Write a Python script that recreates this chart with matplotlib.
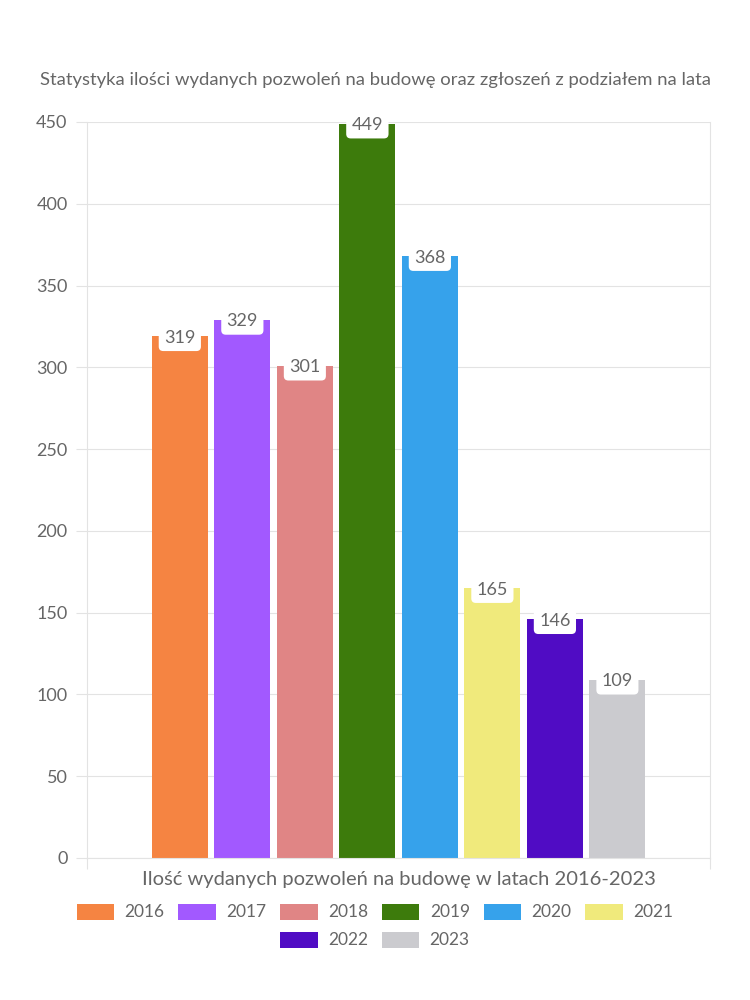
import matplotlib.pyplot as plt
from matplotlib.patches import Patch

title = "Statystyka ilości wydanych pozwoleń na budowę oraz zgłoszeń z podziałem na lata"
xlabel = "Ilość wydanych pozwoleń na budowę w latach 2016-2023"
years = ["2016", "2017", "2018", "2019", "2020", "2021", "2022", "2023"]
values = [319, 329, 301, 449, 368, 165, 146, 109]
colors = ["#F58442", "#A259FF", "#E08585", "#3D7B0C", "#36A2EB", "#F0EA7C", "#500CC4", "#CBCBCF"]
yticks = [0, 50, 100, 150, 200, 250, 300, 350, 400, 450]

plt.rcParams['font.family'] = ['Lato', 'DejaVu Sans']
text_color = "#666666"
grid_color = "#e3e3e3"

fig = plt.figure(figsize=(7.5, 10), dpi=100)
ax = fig.add_axes([0.116, 0.142, 0.831, 0.736])

step = 0.1003
width = 0.0899
n = len(years)
for i, (year, v, c) in enumerate(zip(years, values, colors)):
    x = (i - (n - 1) / 2) * step
    ax.bar(x, v, width=width, color=c, zorder=2)
    ax.annotate(str(v), xy=(x, v), xytext=(0, -1), textcoords="offset points",
                ha="center", va="center", fontsize=13, color=text_color, zorder=4,
                bbox=dict(boxstyle="round,pad=0.3,rounding_size=0.25", fc="white", ec="none"))

ax.set_xlim(-0.5, 0.5)
ax.set_ylim(0, 450)
ax.set_yticks(yticks)
ax.set_xticks([-0.5, 0.5])
ax.set_xticklabels(["", ""])
ax.tick_params(axis="y", length=8, color=grid_color, labelcolor=text_color, labelsize=13, pad=6)
ax.tick_params(axis="x", length=8, color=grid_color)
ax.grid(axis="y", color=grid_color, linewidth=0.8, zorder=0)
for side in ["left", "right", "bottom", "top"]:
    ax.spines[side].set_color(grid_color)
ax.spines["top"].set_visible(False)
ax.set_axisbelow(True)

fig.text(0.5, 0.92, title, ha="center", va="center", fontsize=13.3, color=text_color)
fig.text(0.532, 0.12, xlabel, ha="center", va="center", fontsize=14.5, color=text_color)

handles = [Patch(facecolor=c, label=y) for y, c in zip(years, colors)]
legend_opts = dict(loc="center", frameon=False, fontsize=12.5, handlelength=2.15,
                   handleheight=1.05, columnspacing=0.8, handletextpad=0.6,
                   labelcolor=text_color)
fig.legend(handles=handles[:6], bbox_to_anchor=(0.5, 0.088), ncol=6, **legend_opts)
fig.legend(handles=handles[6:], bbox_to_anchor=(0.5, 0.06), ncol=2, **legend_opts)

fig.savefig("out.png", dpi=100, facecolor="white")
